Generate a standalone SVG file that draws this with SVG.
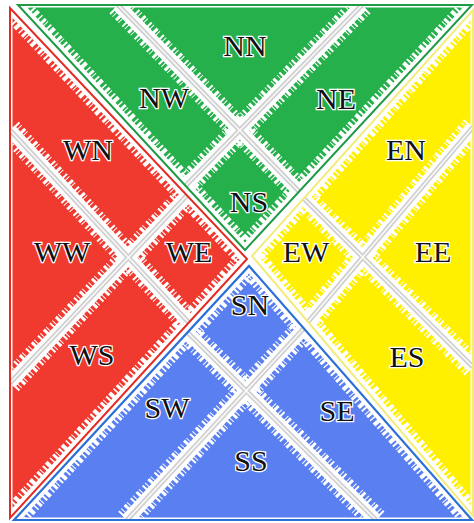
<svg xmlns="http://www.w3.org/2000/svg" width="474" height="523" viewBox="0 0 474 523">
<defs>
<clipPath id="cG"><polygon points="18,5 472,5 245,250"/></clipPath>
<clipPath id="cW"><polygon points="10,8 10,518 247,259"/></clipPath>
<clipPath id="cE"><polygon points="473,10 473,516 252,256"/></clipPath>
<clipPath id="cS"><polygon points="14,520 472,520 249,266"/></clipPath>
</defs>
<style>
.edge{stroke:#fff;stroke-width:5;}
.dsolid{stroke:#fff;stroke-width:10;}
.drag{stroke:#fff;stroke-width:22;stroke-dasharray:1.5 2.5 3 1.5 1 3 2 2 4 3;}
.band{stroke:#fff;stroke-width:13;}
.bandr{stroke:#fff;stroke-width:24;stroke-dasharray:2 2 1 3 3 1.5 1 4;}
.g1{stroke:#cfcfcf;stroke-width:5;}
.g2{stroke:#fafafa;stroke-width:1.6;}
.lbl{font-family:"Liberation Serif","Times New Roman",serif;font-size:30px;fill:#111;stroke:#fff;stroke-width:2.5px;paint-order:stroke;text-anchor:middle;}
</style>
<rect width="474" height="523" fill="#fff"/>

<g id="north">
<polygon points="18,5 472,5 245,250" fill="#25b04c" class="edge" clip-path="url(#cG)"/>
<g clip-path="url(#cG)">
<line x1="18" y1="5" x2="245" y2="250" class="drag"/>
<line x1="472" y1="5" x2="245" y2="250" class="drag"/>
<line x1="18" y1="5" x2="245" y2="250" class="dsolid"/>
<line x1="472" y1="5" x2="245" y2="250" class="dsolid"/>
<line x1="118" y1="5" x2="320" y2="213" class="bandr"/>
<line x1="362" y1="5" x2="160" y2="212" class="bandr"/>
<line x1="118" y1="5" x2="320" y2="213" class="band"/>
<line x1="362" y1="5" x2="160" y2="212" class="band"/>
<line x1="118" y1="5" x2="320" y2="213" class="g1"/>
<line x1="362" y1="5" x2="160" y2="212" class="g1"/>
<line x1="118" y1="5" x2="320" y2="213" class="g2"/>
<line x1="362" y1="5" x2="160" y2="212" class="g2"/>
</g>
<polygon points="18,5 472,5 245,250" fill="none" stroke="#1f9a45" stroke-width="2"/>
<text class="lbl" x="245" y="56">NN</text>
<text class="lbl" x="164" y="108">NW</text>
<text class="lbl" x="336" y="109">NE</text>
<text class="lbl" x="249" y="212">NS</text>
</g>

<g id="west">
<polygon points="10,8 10,518 247,259" fill="#f03a30" class="edge" clip-path="url(#cW)"/>
<g clip-path="url(#cW)">
<line x1="10" y1="8" x2="247" y2="259" class="drag"/>
<line x1="10" y1="518" x2="247" y2="259" class="drag"/>
<line x1="10" y1="8" x2="247" y2="259" class="dsolid"/>
<line x1="10" y1="518" x2="247" y2="259" class="dsolid"/>
<line x1="10" y1="130" x2="270" y2="410" class="bandr"/>
<line x1="10" y1="383" x2="260" y2="118" class="bandr"/>
<line x1="10" y1="130" x2="270" y2="410" class="band"/>
<line x1="10" y1="383" x2="260" y2="118" class="band"/>
<line x1="10" y1="130" x2="270" y2="410" class="g1"/>
<line x1="10" y1="383" x2="260" y2="118" class="g1"/>
<line x1="10" y1="130" x2="270" y2="410" class="g2"/>
<line x1="10" y1="383" x2="260" y2="118" class="g2"/>
</g>
<polygon points="10,8 10,518 247,259" fill="none" stroke="#e52a22" stroke-width="2"/>
<text class="lbl" x="88" y="160">WN</text>
<text class="lbl" x="62" y="262">WW</text>
<text class="lbl" x="189" y="262">WE</text>
<text class="lbl" x="92" y="365">WS</text>
</g>

<g id="east">
<polygon points="473,10 473,516 252,256" fill="#fff000" class="edge" clip-path="url(#cE)"/>
<g clip-path="url(#cE)">
<line x1="473" y1="10" x2="252" y2="256" class="drag"/>
<line x1="473" y1="516" x2="252" y2="256" class="drag"/>
<line x1="473" y1="10" x2="252" y2="256" class="dsolid"/>
<line x1="473" y1="516" x2="252" y2="256" class="dsolid"/>
<line x1="473" y1="127" x2="230" y2="414" class="bandr"/>
<line x1="473" y1="367" x2="230" y2="125" class="bandr"/>
<line x1="473" y1="127" x2="230" y2="414" class="band"/>
<line x1="473" y1="367" x2="230" y2="125" class="band"/>
<line x1="473" y1="127" x2="230" y2="414" class="g1"/>
<line x1="473" y1="367" x2="230" y2="125" class="g1"/>
<line x1="473" y1="127" x2="230" y2="414" class="g2"/>
<line x1="473" y1="367" x2="230" y2="125" class="g2"/>
</g>
<polygon points="473,10 473,516 252,256" fill="none" stroke="#f2ec7a" stroke-width="2"/>
<text class="lbl" x="406" y="160">EN</text>
<text class="lbl" x="306" y="262">EW</text>
<text class="lbl" x="433" y="262">EE</text>
<text class="lbl" x="407" y="367">ES</text>
</g>

<g id="south">
<polygon points="14,520 472,520 249,266" fill="#5a7ff0" class="edge" clip-path="url(#cS)"/>
<g clip-path="url(#cS)">
<line x1="14" y1="520" x2="249" y2="266" class="drag"/>
<line x1="472" y1="520" x2="249" y2="266" class="drag"/>
<line x1="14" y1="520" x2="249" y2="266" class="dsolid"/>
<line x1="472" y1="520" x2="249" y2="266" class="dsolid"/>
<line x1="127" y1="520" x2="330" y2="300" class="bandr"/>
<line x1="376" y1="520" x2="160" y2="305" class="bandr"/>
<line x1="127" y1="520" x2="330" y2="300" class="band"/>
<line x1="376" y1="520" x2="160" y2="305" class="band"/>
<line x1="127" y1="520" x2="330" y2="300" class="g1"/>
<line x1="376" y1="520" x2="160" y2="305" class="g1"/>
<line x1="127" y1="520" x2="330" y2="300" class="g2"/>
<line x1="376" y1="520" x2="160" y2="305" class="g2"/>
</g>
<polygon points="14,520 472,520 249,266" fill="none" stroke="#2c6fd6" stroke-width="2.2"/>
<text class="lbl" x="250" y="315">SN</text>
<text class="lbl" x="167" y="418">SW</text>
<text class="lbl" x="337" y="421">SE</text>
<text class="lbl" x="251" y="471">SS</text>
</g>
</svg>
